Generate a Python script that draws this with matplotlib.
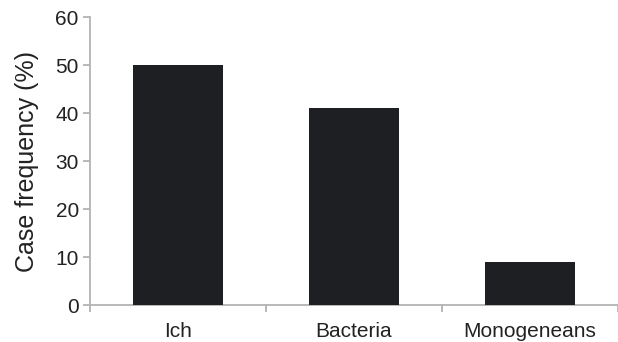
import matplotlib
matplotlib.use("Agg")
import matplotlib.pyplot as plt
from matplotlib.ticker import FixedLocator

categories = ["Ich", "Bacteria", "Monogeneans"]
values = [50, 41, 9]
yticks = [0, 10, 20, 30, 40, 50, 60]

plt.rcParams['font.family'] = ['Liberation Sans', 'DejaVu Sans']

fig = plt.figure(figsize=(6.18, 3.42), dpi=100)
ax = fig.add_axes([0.1456, 0.108, 0.854, 0.842])

x = list(range(len(categories)))
ax.bar(x, values, width=0.51, color="#1e1f22", zorder=3)

ax.set_xlim(-0.5, len(categories) - 0.5)
ax.set_ylim(0, 60)
ax.set_yticks(yticks)
ax.set_xticks(x)
ax.set_xticklabels(categories, fontsize=15, color="#222222")
ax.xaxis.set_minor_locator(FixedLocator([i - 0.5 for i in range(len(categories) + 1)]))
ax.tick_params(axis='x', which='major', length=0, pad=12)
ax.tick_params(axis='x', which='minor', length=5, width=1.3, color="#b3b3b3")
ax.tick_params(axis='y', length=5, width=1.3, color="#b3b3b3", labelsize=15,
               labelcolor="#222222", pad=3)

for s in ["top", "right"]:
    ax.spines[s].set_visible(False)
for s in ["left", "bottom"]:
    ax.spines[s].set_color("#b3b3b3")
    ax.spines[s].set_linewidth(1.3)

ax.set_ylabel("Case frequency (%)", fontsize=18, color="#222222", labelpad=12)

fig.savefig("out.png", dpi=100)
